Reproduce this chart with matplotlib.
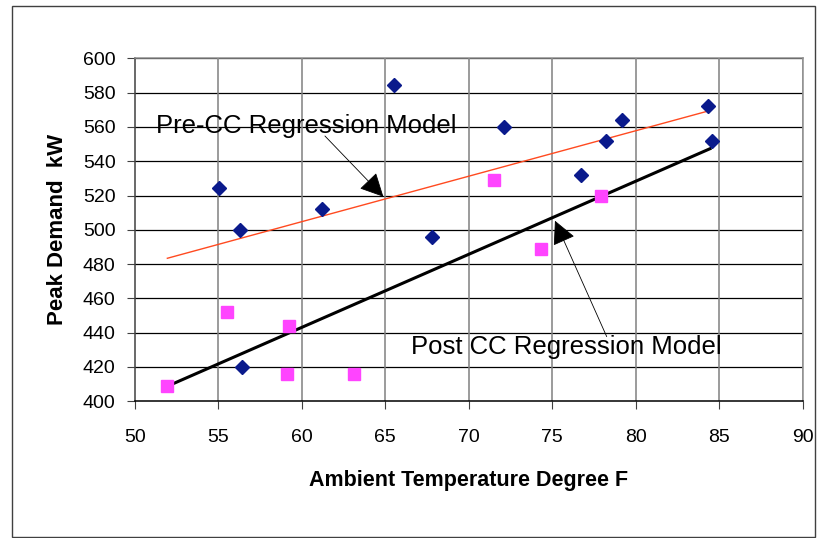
import matplotlib
matplotlib.use("Agg")
import matplotlib.pyplot as plt
from matplotlib.patches import Rectangle

# Pre-CC observations (blue diamonds)
pre_temp = [55.05, 56.3, 56.4, 61.2, 65.5, 67.8, 72.1, 76.7, 78.2, 79.2, 84.35, 84.55]
pre_kw = [524.6, 500.0, 420.0, 512.0, 584.4, 496.0, 560.0, 532.0, 552.0, 564.0, 572.0, 552.0]

# Post-CC observations (pink squares)
post_temp = [51.9, 55.5, 59.1, 59.25, 63.1, 71.5, 74.3, 77.9]
post_kw = [409.0, 452.0, 416.0, 444.0, 416.0, 529.0, 489.0, 520.0]

# regression lines as drawn (end points)
pre_fit_temp = [51.94, 84.35]
pre_fit_kw = [483.4, 569.3]
post_fit_temp = [52.2, 84.45]
post_fit_kw = [409.9, 547.3]

xticks = [50, 55, 60, 65, 70, 75, 80, 85, 90]
yticks = [400, 420, 440, 460, 480, 500, 520, 540, 560, 580, 600]

plt.rcParams['font.family'] = ['Liberation Sans', 'DejaVu Sans']

fig = plt.figure(figsize=(8.17, 5.38), dpi=100)
fig.patch.set_facecolor('white')
ax = fig.add_axes([0.1652, 0.2541, 0.8173, 0.6375])

# outer chart frame
fig.patches.append(Rectangle((12 / 817, 1 - 537 / 538), 803 / 817, 531 / 538,
                             transform=fig.transFigure, fill=False,
                             edgecolor='#404040', lw=1.0))

ax.set_xlim(50, 90)
ax.set_ylim(400, 600)
ax.set_xticks(xticks)
ax.set_yticks(yticks)
ax.tick_params(axis='both', direction='out', labelsize=14, colors='black')
ax.tick_params(axis='x', length=6, pad=14, color='#404040')
ax.tick_params(axis='y', length=6, pad=8, color='#404040')

for yv in yticks[1:]:
    ax.axhline(yv, color='black', lw=0.9, zorder=1)
for xv in xticks[1:]:
    ax.axvline(xv, color='#808080', lw=1.1, zorder=1)

ax.spines['left'].set_color('#404040')
ax.spines['bottom'].set_color('black')
ax.spines['top'].set_color('#909090')
ax.spines['right'].set_color('#909090')
for s in ax.spines.values():
    s.set_linewidth(1.1)

ax.plot(pre_fit_temp, pre_fit_kw, color='#FF4A20', lw=1.0, zorder=3)
ax.plot(post_fit_temp, post_fit_kw, color='black', lw=2.2, zorder=3)

ax.plot(pre_temp, pre_kw, linestyle='none', marker='D', markersize=7,
        color='#0A1A8C', zorder=4)
ax.plot(post_temp, post_kw, linestyle='none', marker='s', markersize=9.2,
        color='#FF44FF', zorder=4)

ax.text(60.28, 560.8, 'Pre-CC Regression Model', fontsize=18.5,
        ha='center', va='center', zorder=5)
ax.text(75.83, 431.8, 'Post CC Regression Model', fontsize=18.5,
        ha='center', va='center', zorder=5)

arrow = dict(arrowstyle='-|>,head_length=0.4,head_width=0.2', mutation_scale=37,
             color='black', lw=0.6, shrinkA=0, shrinkB=0)
ax.annotate('', xy=(64.88, 519.3), xytext=(61.38, 554.7), arrowprops=arrow, zorder=5)
ax.annotate('', xy=(75.16, 505.3), xytext=(78.26, 437.7), arrowprops=arrow, zorder=5)

ax.set_xlabel('Ambient Temperature Degree F', fontsize=15.5, fontweight='bold', va='center')
ax.xaxis.set_label_coords(0.5, -0.2295)
ax.set_ylabel('Peak Demand  kW', fontsize=16, fontweight='bold', va='center')
ax.yaxis.set_label_coords(-0.1153, 0.5)

fig.savefig('out.png', dpi=100, facecolor='white')
